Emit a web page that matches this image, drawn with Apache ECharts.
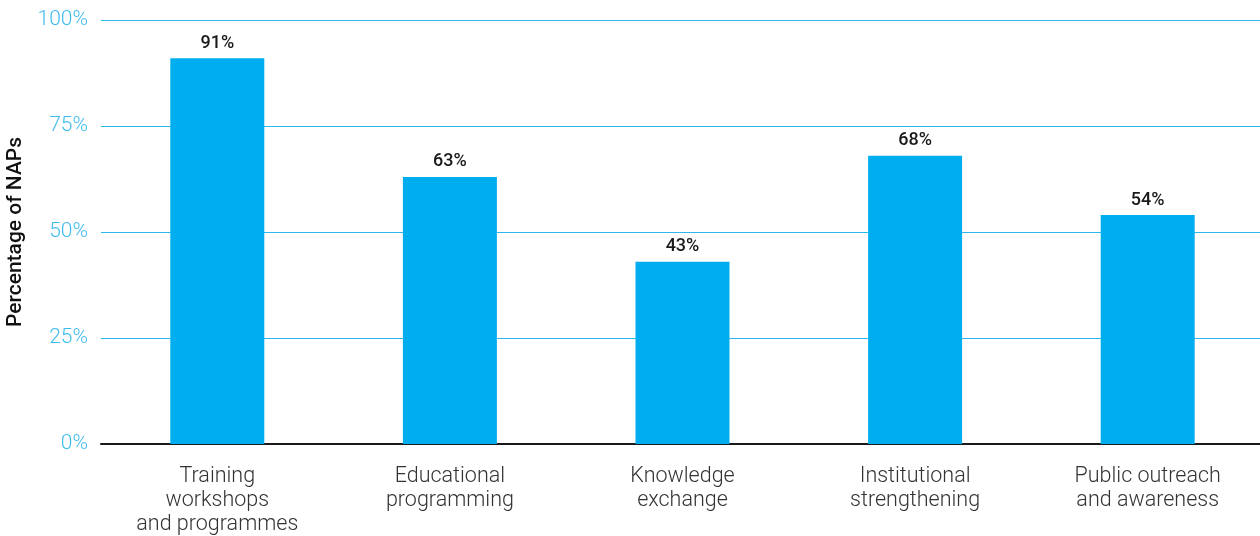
<!DOCTYPE html>
<html>
<head>
<meta charset="utf-8">
<script src="https://cdn.jsdelivr.net/npm/echarts@6/dist/echarts.min.js"></script>
<style>
  html, body { margin: 0; padding: 0; background: #ffffff; }
  #chart { width: 1260px; height: 536px; }
</style>
</head>
<body>
<div id="chart"></div>
<script>
// Capacity-building activities reported in NAPs
const categories = [
  'Training\nworkshops\nand programmes',
  'Educational\nprogramming',
  'Knowledge\nexchange',
  'Institutional\nstrengthening',
  'Public outreach\nand awareness'
];
const shareOfNAPs = [91, 63, 43, 68, 54];
const yTicks = [0, 25, 50, 75, 100];

const chart = echarts.init(document.getElementById('chart'), null, { renderer: 'canvas' });

chart.setOption({
  animation: false,
  grid: {
    left: 101, right: -4, top: 20, bottom: 92,
    containLabel: false,
    outerBoundsMode: 'none'
  },
  xAxis: {
    type: 'category',
    data: categories,
    axisLine: { show: true, lineStyle: { color: '#1a1a1a', width: 2 } },
    axisTick: { show: false },
    axisLabel: {
      margin: 21,
      fontFamily: 'Roboto',
      fontWeight: 300,
      fontSize: 21.5,
      lineHeight: 24,
      color: '#333333',
      interval: 0
    }
  },
  yAxis: {
    type: 'value',
    min: yTicks[0],
    max: yTicks[yTicks.length - 1],
    interval: 25,
    name: 'Percentage of NAPs',
    nameLocation: 'middle',
    nameGap: 68,
    nameRotate: 90,
    nameTextStyle: {
      fontFamily: 'Roboto',
      fontWeight: 500,
      fontSize: 21,
      color: '#111111'
    },
    axisLine: { show: false },
    axisTick: { show: false },
    axisLabel: {
      margin: 13,
      fontFamily: 'Roboto',
      fontWeight: 300,
      fontSize: 21,
      color: '#3fbcee',
      formatter: v => v + '%'
    },
    splitLine: { show: true, lineStyle: { color: '#2cb8ee', width: 1 } }
  },
  series: [{
    type: 'bar',
    data: shareOfNAPs,
    barWidth: 94,
    itemStyle: { color: '#00aeef' },
    label: {
      show: true,
      position: 'top',
      distance: 6,
      fontFamily: 'Roboto',
      fontWeight: 500,
      fontSize: 18,
      color: '#1a1a1a',
      formatter: p => p.value + '%'
    }
  }]
});
</script>
</body>
</html>
